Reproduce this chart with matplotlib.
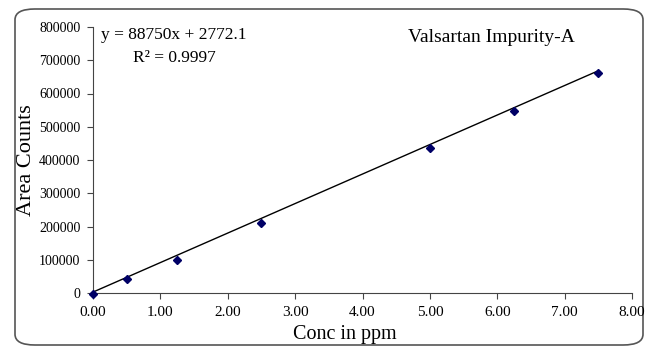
import numpy as np
import matplotlib
matplotlib.use('Agg')
import matplotlib.pyplot as plt
from matplotlib.patches import FancyBboxPatch

# calibration data
conc = [0.0, 0.5, 1.25, 2.5, 5.0, 6.25, 7.5]
area = [-4000, 43000, 98000, 211000, 435000, 546000, 662000]

# trend line as printed on the chart
slope = 88750
intercept = 2772.1
r2 = 0.9997

xTicks = [0, 1, 2, 3, 4, 5, 6, 7, 8]
yTicks = [0, 100000, 200000, 300000, 400000, 500000, 600000, 700000, 800000]

plt.rcParams['font.family'] = ['Liberation Serif', 'DejaVu Serif']

fig = plt.figure(figsize=(6.61, 3.57), dpi=100)

# rounded outer frame, like the Excel chart area
frame = FancyBboxPatch((15 / 661, 12 / 357), 628 / 661, 336 / 357,
                       boxstyle='round,pad=0,rounding_size=0.03',
                       transform=fig.transFigure, facecolor='white',
                       edgecolor='#555555', linewidth=1.2, zorder=-1)
fig.patches.append(frame)

ax = fig.add_axes([93 / 661, 1 - 293 / 357, (632 - 93) / 661, (293 - 27) / 357])
ax.set_facecolor('none')

fitX = np.array([min(conc), max(conc)])
ax.plot(fitX, slope * fitX + intercept, color='black', linewidth=1.0)
ax.plot(conc, area, linestyle='none', marker='D', markersize=4.5,
        color='#000066', clip_on=False, zorder=3)

ax.set_xlim(0, 8)
ax.set_ylim(0, 800000)
ax.set_xticks(xTicks)
ax.set_xticklabels(['%.2f' % t for t in xTicks])
ax.set_yticks(yTicks)
ax.set_yticklabels([str(t) for t in yTicks])
ax.tick_params(direction='out', length=4, width=0.8, color='#444444')
ax.tick_params(axis='x', labelsize=11, pad=5)
ax.tick_params(axis='y', labelsize=10, pad=5)

for side in ['top', 'right']:
    ax.spines[side].set_visible(False)
for side in ['left', 'bottom']:
    ax.spines[side].set_color('#444444')

ax.set_xlabel('Conc in ppm', fontsize=14.5, labelpad=5, x=0.4675)
ax.set_ylabel('Area Counts', fontsize=16, labelpad=2)

ax.text(0.015, 0.97, 'y = %gx + %.1f' % (slope, intercept), transform=ax.transAxes,
        fontsize=12.5, va='center', ha='left')
ax.text(0.075, 0.885, 'R² = %.4f' % r2, transform=ax.transAxes,
        fontsize=12.5, va='center', ha='left')
ax.text(0.585, 0.962, 'Valsartan Impurity-A', transform=ax.transAxes,
        fontsize=14, va='center', ha='left')

fig.savefig('out.png', dpi=100)
